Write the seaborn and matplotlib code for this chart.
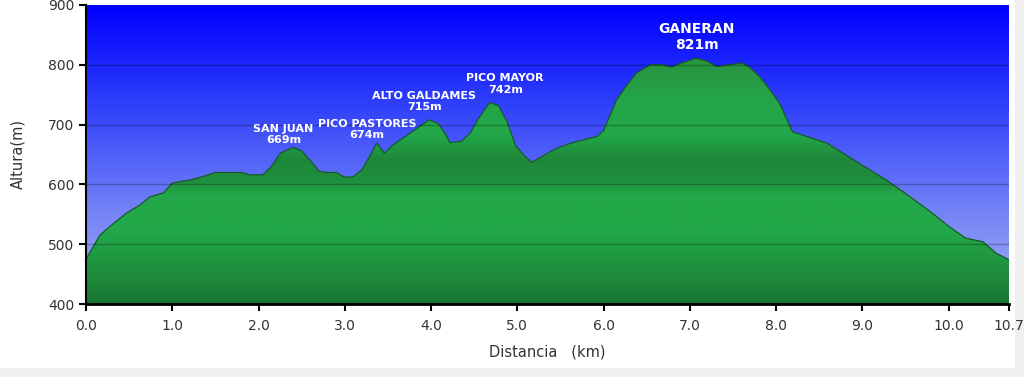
import matplotlib

matplotlib.use("Agg")

import matplotlib.pyplot as plt
import numpy as np
import pandas as pd
import seaborn as sns
from matplotlib.colors import LinearSegmentedColormap
from matplotlib.patches import Rectangle

# perfil: distancia (km) y altura (m)
distancia = [0.0, 0.1, 0.16, 0.28, 0.47, 0.63, 0.74, 0.9, 1.0, 1.1, 1.2, 1.35, 1.5,
             1.65, 1.8, 1.9, 2.05, 2.15, 2.25, 2.4, 2.5, 2.6, 2.7, 2.8, 2.9, 3.0,
             3.1, 3.2, 3.3, 3.37, 3.46, 3.55, 3.7, 3.85, 3.98, 4.08, 4.15, 4.22,
             4.35, 4.45, 4.55, 4.68, 4.78, 4.88, 4.98, 5.08, 5.17, 5.3, 5.45, 5.6,
             5.75, 5.92, 6.0, 6.15, 6.25, 6.38, 6.54, 6.69, 6.79, 6.9, 7.08, 7.2,
             7.31, 7.45, 7.61, 7.7, 7.81, 7.92, 8.04, 8.19, 8.4, 8.59, 8.8, 9.0,
             9.28, 9.5, 9.81, 10.0, 10.2, 10.4, 10.55, 10.7]
altura = [475, 500, 515, 530, 552, 566, 579, 586, 602, 605, 607, 613, 620,
          620, 620, 616, 616, 630, 652, 662, 656, 640, 622, 620, 620, 612,
          613, 625, 650, 669, 652, 665, 680, 695, 708, 702, 688, 670,
          672, 685, 710, 737, 732, 705, 665, 648, 637, 648, 660, 668,
          674, 680, 690, 741, 762, 786, 800, 800, 796, 803, 811, 806,
          797, 800, 803, 795, 780, 760, 736, 688, 678, 669, 650, 632,
          607, 585, 552, 530, 510, 504, 485, 474]

# cimas
cimas = ["SAN JUAN", "PICO PASTORES", "ALTO GALDAMES", "PICO MAYOR", "GANERAN"]
cimas_alt = [669, 674, 715, 742, 821]
cimas_x = [2.29, 3.26, 3.92, 4.86, 7.08]
cimas_y = [684, 692, 738, 768, 846]

x_ticks = [0.0, 1.0, 2.0, 3.0, 4.0, 5.0, 6.0, 7.0, 8.0, 9.0, 10.0, 10.7]
y_ticks = [400, 500, 600, 700, 800, 900]

perfil = pd.DataFrame({"distancia": distancia, "altura": altura})

sns.set_theme(style="white")
plt.rcParams["font.family"] = ["DejaVu Sans"]

fig = plt.figure(figsize=(10.24, 3.77), dpi=100)
fig.patch.set_facecolor("#efefef")
fig.patches.append(Rectangle((0, 9 / 377), 1015 / 1024, 1, transform=fig.transFigure,
                             facecolor="white", edgecolor="none", zorder=-10))
ax = fig.add_axes([86 / 1024, 73 / 377, 923 / 1024, 299 / 377])

xmin, xmax, ymin, ymax = 0.0, 10.7, 400, 900

# fondo degradado azul
cielo = LinearSegmentedColormap.from_list("cielo", ["#a9b1f4", "#6f7ff6", "#3040fa", "#0000fe"])
ax.imshow(np.linspace(0, 1, 256).reshape(-1, 1), cmap=cielo, origin="lower",
          extent=[xmin, xmax, ymin, ymax], aspect="auto", zorder=0)

# relleno verde con degradado
verde = LinearSegmentedColormap.from_list(
    "verde",
    [(0.0, "#1a7533"), (0.08, "#1d8638"), (0.28, "#22a84a"), (0.42, "#22a849"),
     (0.48, "#1f8e3d"), (0.56, "#1e883a"), (0.66, "#22a84a"), (0.8, "#24a448"),
     (1.0, "#2a8e3e")])
relleno = ax.fill_between(perfil["distancia"], perfil["altura"], ymin,
                          facecolor="none", edgecolor="none", zorder=1)
img = ax.imshow(np.linspace(0, 1, 256).reshape(-1, 1), cmap=verde, origin="lower",
                extent=[xmin, xmax, ymin, 830], aspect="auto", zorder=1)
img.set_clip_path(relleno.get_paths()[0], transform=ax.transData)

sns.lineplot(data=perfil, x="distancia", y="altura", color="#17592a", linewidth=0.9,
             ax=ax, zorder=2)

# lineas de rejilla
for y in y_ticks[1:-1]:
    ax.axhline(y, color="black", alpha=0.25, linewidth=1.0, zorder=3)

for nombre, alt, cx, cy in zip(cimas, cimas_alt, cimas_x, cimas_y):
    size = 10 if nombre == "GANERAN" else 8
    ax.text(cx, cy, f"{nombre}\n{alt}m", ha="center", va="center", color="white",
            fontsize=size, fontweight="bold", linespacing=1.15, zorder=4)

ax.set_xlim(xmin, xmax)
ax.set_ylim(ymin, ymax)
ax.set_xticks(x_ticks)
ax.set_xticklabels([f"{t:.1f}" for t in x_ticks])
ax.set_yticks(y_ticks)
ax.tick_params(axis="both", direction="out", length=5, width=1.5, color="black",
               labelsize=10, labelcolor="#333333", bottom=True, left=True)
ax.tick_params(axis="x", pad=6)
for lado in ["top", "right"]:
    ax.spines[lado].set_visible(False)
ax.spines["left"].set_color("black")
ax.spines["left"].set_linewidth(1.5)
ax.spines["bottom"].set_color("black")
ax.spines["bottom"].set_linewidth(2.0)
ax.set_xlabel("Distancia   (km)", fontsize=10.5, color="#333333", labelpad=8)
ax.set_ylabel("Altura(m)", fontsize=10.5, color="#333333", labelpad=16)

fig.savefig("out.png", dpi=100)
plt.close(fig)
